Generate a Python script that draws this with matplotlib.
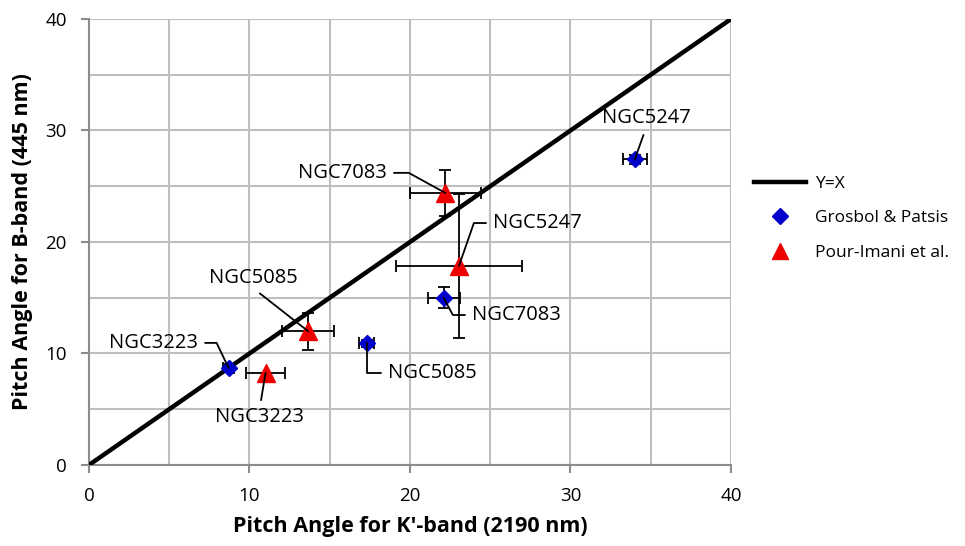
import matplotlib
matplotlib.use("Agg")
import matplotlib.pyplot as plt
from matplotlib.ticker import MultipleLocator
from matplotlib.lines import Line2D

plt.rcParams['font.family'] = ['Open Sans', 'DejaVu Sans']

# Grosbol & Patsis
gp_names = ["NGC3223", "NGC5085", "NGC7083", "NGC5247"]
gp_x = [8.7, 17.3, 22.1, 34.0]
gp_y = [8.7, 10.9, 15.0, 27.4]
gp_xerr = [0.35, 0.45, 1.0, 0.75]
gp_yerr = [0.35, 0.3, 0.95, 0.4]

# Pour-Imani et al.
pi_names = ["NGC3223", "NGC5085", "NGC7083", "NGC5247"]
pi_x = [11.0, 13.65, 22.2, 23.05]
pi_y = [8.25, 12.0, 24.4, 17.85]
pi_xerr = [1.2, 1.6, 2.2, 3.95]
pi_yerr = [0.0, 1.65, 2.05, 6.45]

# label placement: (x, y, ha, relpos, leader elbow angle or None)
gp_lab = [(6.8, 10.95, 'right', (1, 0.5), 115.6),
          (18.63, 8.25, 'left', (0, 0.5), 90.0),
          (23.86, 13.45, 'left', (0, 0.5), 117.9),
          (34.7, 31.1, 'center', (0.5, 0), None)]
pi_lab = [(10.65, 4.3, 'center', (0.5, 1), None),
          (10.22, 16.77, 'center', (0.5, 0), None),
          (18.57, 26.2, 'right', (1, 0.5), -28.8),
          (25.17, 21.7, 'left', (0, 0.5), 70.8)]

fig = plt.figure(figsize=(9.65, 5.46), dpi=100)
ax = fig.add_axes([0.0922, 0.1484, 0.6653, 0.8168])

ax.plot([0, 40], [0, 40], color='black', lw=3.2, zorder=3, solid_capstyle='butt')

ax.errorbar(gp_x, gp_y, xerr=gp_xerr, yerr=gp_yerr, fmt='D', color='#0000CC',
            markersize=8, ecolor='black', elinewidth=1.3, capsize=4, capthick=1.3, zorder=4)
ax.errorbar(pi_x, pi_y, xerr=pi_xerr, yerr=pi_yerr, fmt='^', color='#EE0000',
            markersize=13, ecolor='black', elinewidth=1.3, capsize=4, capthick=1.3, zorder=4)

for names, xs, ys, labs in [(gp_names, gp_x, gp_y, gp_lab), (pi_names, pi_x, pi_y, pi_lab)]:
    for n, x, y, (lx, ly, ha, rp, ang) in zip(names, xs, ys, labs):
        if ang is None:
            cs = 'arc3'
        else:
            cs = 'angle,angleA=0,angleB=%g,rad=0' % ang
        ax.annotate(n, xy=(x, y), xytext=(lx, ly), ha=ha, va='center', fontsize=14.5,
                    arrowprops=dict(arrowstyle='-', color='black', lw=1.3,
                                    shrinkA=3, shrinkB=0, relpos=rp,
                                    connectionstyle=cs), zorder=5)

ax.set_xlim(0, 40)
ax.set_ylim(0, 40)
ax.xaxis.set_major_locator(MultipleLocator(10))
ax.yaxis.set_major_locator(MultipleLocator(10))
ax.xaxis.set_minor_locator(MultipleLocator(5))
ax.yaxis.set_minor_locator(MultipleLocator(5))
ax.grid(True, which='both', color='#BFBFBF', lw=1.5)
ax.set_axisbelow(True)
ax.tick_params(which='major', direction='out', length=6, width=1.5, color='#8C8C8C',
               labelsize=13.5, pad=10)
ax.tick_params(which='minor', length=0)
for s in ['left', 'bottom']:
    ax.spines[s].set_color('#8C8C8C')
    ax.spines[s].set_linewidth(1.5)
for s in ['top', 'right']:
    ax.spines[s].set_visible(False)

ax.set_xlabel("Pitch Angle for K'-band (2190 nm)", fontsize=15.5, fontweight='bold', labelpad=8)
ax.set_ylabel("Pitch Angle for B-band (445 nm)", fontsize=15.5, fontweight='bold', labelpad=9)

handles = [Line2D([], [], color='black', lw=3.2),
           Line2D([], [], marker='D', color='#0000CC', ls='none', markersize=8),
           Line2D([], [], marker='^', color='#EE0000', ls='none', markersize=12)]
fig.legend(handles, ['Y=X', 'Grosbol & Patsis', 'Pour-Imani et al.'],
           loc='center left', bbox_to_anchor=(0.765, 0.60), frameon=False,
           fontsize=12.5, handlelength=3.0, handletextpad=0.5, labelspacing=1.05)

fig.savefig('out.png', dpi=100)
